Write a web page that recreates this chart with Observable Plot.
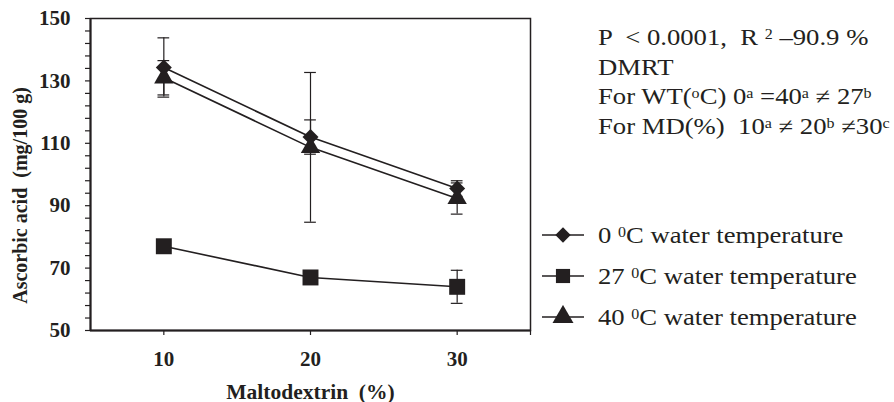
<!DOCTYPE html>
<html>
<head>
<meta charset="utf-8">
<script src="https://cdn.jsdelivr.net/npm/d3@7"></script>
<script src="https://cdn.jsdelivr.net/npm/@observablehq/plot@0.6"></script>
<style>
  html, body { margin: 0; padding: 0; background: #fff; font-family: "Liberation Serif", "Times New Roman", serif; }
  #wrap { position: relative; width: 894px; height: 402px; font-family: "Liberation Serif", "Times New Roman", serif; color: #231f20; }
  #wrap > svg { position: absolute; left: 0; top: 0; }
  #wrap .note { position: absolute; left: 598px; font-family: "Liberation Serif", serif; font-size: 23px; line-height: 26px; height: 26px; white-space: pre; transform: scaleX(1.16); transform-origin: left top; }
  #wrap sup { font-size: 0.6em; vertical-align: 0.45em; line-height: 0; }
  #wrap .leg { position: absolute; left: 540px; height: 32px; font-family: "Liberation Serif", serif; font-size: 24px; white-space: pre; display: flex; align-items: center; }
  #wrap .leg svg { position: static; margin-right: 12px; flex: none; }
  #wrap .leg span { display: inline-block; transform: scaleX(1.11); transform-origin: left center; }
</style>
</head>
<body>
<div id="wrap"></div>
<script>
// ---- data ----
const maltodextrin = [10, 20, 30];
const seriesKeys = ["0", "27", "40"];
const legendLabels = ["0 <sup>0</sup>C water temperature", "27 <sup>0</sup>C water temperature", "40 <sup>0</sup>C water temperature"];
const values0 = [134.3, 112.0, 95.5];
const values27 = [77.0, 67.0, 64.0];
const values40 = [131.0, 108.7, 92.3];
const err0 = [9.5, 5.5, 2.5];
const err27 = [0, 0, 5.3];
const err40 = [5.5, 24.0, 5.0];
const yTicks = d3.range(50, 151, 4);
const yLabels = [50, 70, 90, 110, 130, 150];
const xTicks = [10, 20, 30, 35];
const xLabels = [10, 20, 30];
const xTitle = "Maltodextrin  (%)";
const yTitle = "Ascorbic acid  (mg/100 g)";
const noteLines = [
  "P  &lt; 0.0001,  R <sup>2</sup> \u201390.9 %",
  "DMRT",
  "For WT(<sup>o</sup>C) 0<sup>a</sup> =40<sup>a</sup> \u2260 27<sup>b</sup>",
  "For MD(%)  10<sup>a</sup> \u2260 20<sup>b</sup> \u226030<sup>c</sup>"
];

const valueSets = {"0": values0, "27": values27, "40": values40};
const errSets = {"0": err0, "27": err27, "40": err40};
const rows = [];
for (const k of seriesKeys) {
  maltodextrin.forEach((x, i) => rows.push({series: k, x, y: valueSets[k][i], e: errSets[k][i]}));
}
const errRows = rows.filter(d => d.e > 0);

const ink = "#231f20";
const chart = Plot.plot({
  width: 894,
  height: 402,
  marginLeft: 90,
  marginRight: 364,
  marginTop: 18,
  marginBottom: 72,
  style: {fontFamily: "'Liberation Serif', 'Times New Roman', serif", color: ink, background: "transparent"},
  x: {domain: [5, 35]},
  y: {domain: [50, 150]},
  marks: [
    Plot.frame({stroke: ink, strokeWidth: 1.5}),
    Plot.axisY({ticks: yTicks, tickSize: 5, tickPadding: 15, tickFormat: d => yLabels.includes(d) ? String(d) : "", fontSize: 21, fontWeight: "bold", label: null, strokeWidth: 1.2}),
    Plot.axisX({ticks: xTicks, tickSize: 5, tickPadding: 16, tickFormat: d => xLabels.includes(d) ? String(d) : "", fontSize: 21, fontWeight: "bold", label: null, strokeWidth: 1.2}),
    Plot.ruleY([50], {stroke: ink, strokeWidth: 2}),
    Plot.ruleX([5], {stroke: ink, strokeWidth: 2}),
    Plot.text([xTitle], {frameAnchor: "bottom", textAnchor: "middle", dy: 68, fontSize: 21.5, fontWeight: "bold", fill: ink}),
    Plot.text([yTitle], {frameAnchor: "left", textAnchor: "middle", dx: -70, dy: 21, rotate: -90, fontSize: 20, fontWeight: "bold", fill: ink}),
    // error bars
    Plot.ruleX(errRows, {x: "x", y1: d => d.y - d.e, y2: d => d.y + d.e, stroke: ink, strokeWidth: 1.2}),
    Plot.ruleY(errRows, {y: d => d.y + d.e, x1: d => d.x - 0.4, x2: d => d.x + 0.4, stroke: ink, strokeWidth: 1.2}),
    Plot.ruleY(errRows, {y: d => d.y - d.e, x1: d => d.x - 0.4, x2: d => d.x + 0.4, stroke: ink, strokeWidth: 1.2}),
    // lines
    Plot.line(rows, {x: "x", y: "y", z: "series", stroke: ink, strokeWidth: 1.6}),
    // markers
    Plot.dot(rows.filter(d => d.series === "0"), {x: "x", y: "y", symbol: () => "diamond2", r: 7.2, fill: ink, stroke: "none"}),
    Plot.dot(rows.filter(d => d.series === "27"), {x: "x", y: "y", symbol: () => "square", r: 9, fill: ink, stroke: "none"}),
    Plot.dot(rows.filter(d => d.series === "40"), {x: "x", y: "y", symbol: () => "triangle", r: 7.2, fill: ink, stroke: "none"})
  ]
});
const wrap = document.getElementById("wrap");
wrap.appendChild(chart);

// annotation, one block per line
const noteTop = [25, 55, 84, 114];
noteLines.forEach((html, i) => {
  const line = document.createElement("div");
  line.className = "note";
  line.style.top = noteTop[i] + "px";
  line.innerHTML = html;
  wrap.appendChild(line);
});

// legend
const legTop = [235, 276, 317];
const symTypes = {"0": d3.symbolDiamond2, "27": d3.symbolSquare, "40": d3.symbolTriangle};
const symSizes = {"0": 150, "27": 200, "40": 190};
seriesKeys.forEach((k, i) => {
  const row = document.createElement("div");
  row.className = "leg";
  row.style.top = (legTop[i] - 16) + "px";
  const s = d3.create("svg").attr("width", 46).attr("height", 24);
  s.append("line").attr("x1", 2).attr("x2", 44).attr("y1", 12).attr("y2", 12).attr("stroke", ink).attr("stroke-width", 1.6);
  s.append("path").attr("transform", "translate(23,12)")
    .attr("d", d3.symbol(symTypes[k], symSizes[k])())
    .attr("fill", ink);
  row.appendChild(s.node());
  const t = document.createElement("span");
  t.innerHTML = legendLabels[i];
  row.appendChild(t);
  wrap.appendChild(row);
});
</script>
</body>
</html>
